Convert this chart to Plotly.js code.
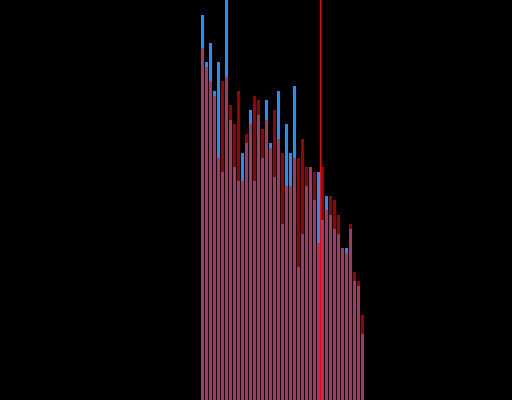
<!DOCTYPE html>
<html>
<head>
<meta charset="utf-8">
<script src="https://cdn.plot.ly/plotly-3.0.1.min.js"></script>
<style>html,body{margin:0;padding:0;background:#000;}#chart{width:512px;height:400px;}</style>
</head>
<body>
<div id="chart"></div>
<script>
var categories = [0,1,2,3,4,5,6,7,8,9,10,11,12,13,14,15,16,17,18,19,20,21,22,23,24,25,26,27,28,29,30,31,32,33,34,35,36,37,38,39,40];
var blueValues = [385,338,357,309,338,228,400,280,233,219,247,257,290,219,285,242,300,257,223,309,176,276,247,314,133,166,214,233,200,228,180,204,185,171,166,152,152,171,119,114,66];
var redValues  = [352,333,319,304,242,319,323,295,276,309,219,266,276,304,300,271,280,252,290,261,247,214,214,242,242,261,233,233,228,157,233,190,204,200,185,152,147,176,128,119,85];
var markerLine = 29.5;

var traces = [
  {type:'bar', x:categories, y:blueValues, marker:{color:'#1E90FF', line:{width:0}}, opacity:1, hoverinfo:'none'},
  {type:'bar', x:categories, y:redValues, marker:{color:'#FF0000', line:{width:0}}, opacity:0.6, hoverinfo:'none'}
];
var layout = {
  width:512, height:400,
  margin:{l:0,r:0,t:0,b:0,pad:0},
  paper_bgcolor:'#000', plot_bgcolor:'#000',
  barmode:'overlay', bargap:0.25,
  showlegend:false,
  xaxis:{range:[-50.625,77.375], visible:false, showgrid:false, zeroline:false},
  yaxis:{range:[0,400], visible:false, showgrid:false, zeroline:false},
  shapes:[{type:'line', xref:'x', yref:'paper', x0:markerLine, x1:markerLine, y0:0, y1:1, line:{color:'#FF0000', width:1}}]
};
Plotly.newPlot('chart', traces, layout, {staticPlot:true, displayModeBar:false});
</script>
</body>
</html>
